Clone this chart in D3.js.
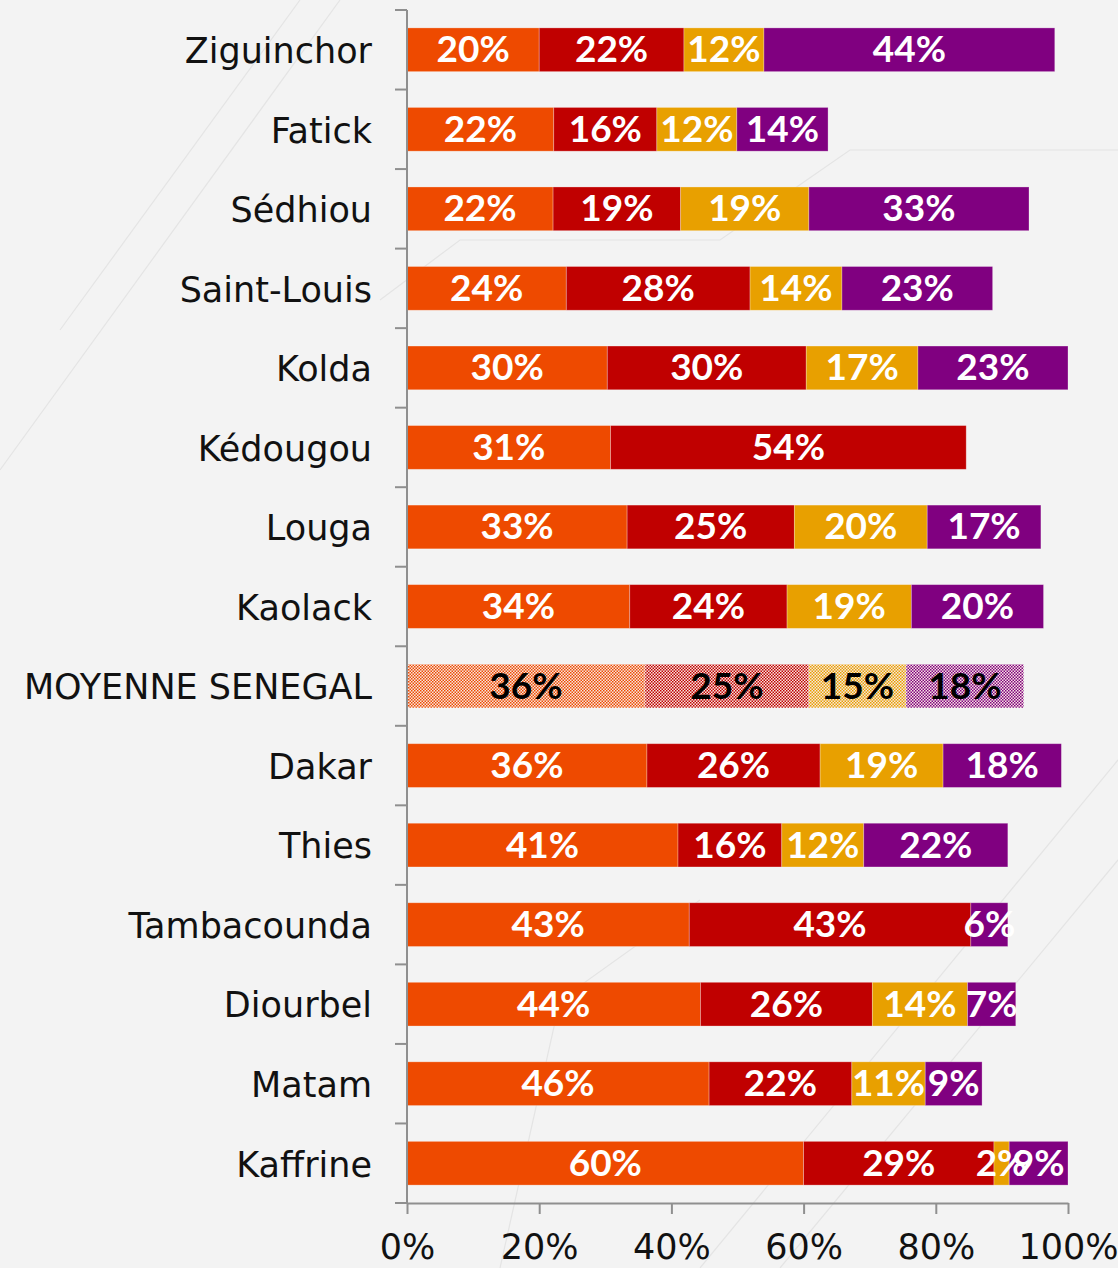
<!DOCTYPE html>
<html><head><meta charset="utf-8">
<script src="https://cdn.jsdelivr.net/npm/d3@7"></script>
<style>
html,body{margin:0;padding:0;background:#f3f3f3;}
svg{display:block;font-family:Lato,"Open Sans",sans-serif;}
</style></head>
<body>
<script>
const categories = ["Ziguinchor","Fatick","Sédhiou","Saint-Louis","Kolda","Kédougou","Louga","Kaolack","MOYENNE SENEGAL","Dakar","Thies","Tambacounda","Diourbel","Matam","Kaffrine"];
const series = ["s1","s2","s3","s4"];
const s1 = [0.200,0.222,0.221,0.241,0.303,0.308,0.333,0.337,0.360,0.363,0.410,0.427,0.444,0.457,0.600];
const s2 = [0.219,0.156,0.193,0.278,0.301,0.538,0.253,0.238,0.248,0.262,0.157,0.426,0.260,0.216,0.288];
const s3 = [0.121,0.121,0.194,0.139,0.169,0.000,0.201,0.188,0.147,0.186,0.124,0.000,0.144,0.111,0.023];
const s4 = [0.440,0.138,0.333,0.228,0.227,0.000,0.172,0.200,0.178,0.179,0.218,0.056,0.073,0.086,0.089];
const colors = ["#EE4A00","#C00000","#E8A000","#800080"];
const tickValues = [0,0.2,0.4,0.6,0.8,1];
const averageCategory = "MOYENNE SENEGAL";

const W = 1118, H = 1268;
const svg = d3.select("body").append("svg").attr("width", W).attr("height", H);

// background
svg.append("rect").attr("width", W).attr("height", H).attr("fill", "#f3f3f3");
const deco = svg.append("g").attr("stroke", "#e4e4e4").attr("stroke-width", 1.2).attr("fill", "none");
[["M60,330 L300,0"],["M0,470 L340,0"],["M700,1268 L1118,760"],["M780,1268 L1118,860"],["M380,300 L460,240 L720,240 L850,150 L1118,150"],["M500,1268 L560,1000 L700,900"]]
  .forEach(p => deco.append("path").attr("d", p[0]));

const defs = svg.append("defs");
colors.forEach((c, i) => {
  const p = defs.append("pattern").attr("id", "pat" + i).attr("patternUnits", "userSpaceOnUse")
    .attr("width", 3).attr("height", 3);
  p.append("rect").attr("width", 3).attr("height", 3).attr("fill", "#f6e6e0");
  p.append("rect").attr("x", 0).attr("y", 0).attr("width", 1.5).attr("height", 1.5).attr("fill", c);
  p.append("rect").attr("x", 1.5).attr("y", 1.5).attr("width", 1.5).attr("height", 1.5).attr("fill", c);
});

const x = d3.scaleLinear().domain([0, 1]).range([407, 1068]);
const y = d3.scaleBand().domain(categories).range([10, 1203]).paddingInner(0.45).paddingOuter(0.225);

const rows = categories.map((c, i) => ({cat: c, s1: s1[i], s2: s2[i], s3: s3[i], s4: s4[i]}));
const stacked = d3.stack().keys(series)(rows);
const fmt = d3.format(".0%");

const layers = svg.append("g").selectAll("g").data(stacked).join("g");
layers.each(function(layer, si) {
  const g = d3.select(this);
  g.selectAll("rect").data(layer).join("rect")
    .attr("x", d => x(d[0]))
    .attr("y", d => y(d.data.cat))
    .attr("width", d => Math.max(0, x(d[1]) - x(d[0])))
    .attr("height", y.bandwidth())
    .attr("fill", d => d.data.cat === averageCategory ? "url(#pat" + si + ")" : colors[si])
    .attr("stroke", "rgba(255,255,255,0.35)").attr("stroke-width", 0.8);
});
const labelG = svg.append("g");
stacked.forEach((layer) => {
  labelG.selectAll(null).data(layer.filter(d => d[1] - d[0] > 0.0005)).join("text")
    .attr("x", d => (x(d[0]) + x(d[1])) / 2)
    .attr("y", d => y(d.data.cat) + y.bandwidth() / 2 + 3)
    .attr("text-anchor", "middle").attr("dominant-baseline", "middle")
    .attr("font-size", 37).attr("font-weight", 700)
    .attr("fill", d => d.data.cat === averageCategory ? "#000" : "#fff")
    .text(d => fmt(d[1] - d[0]));
});

// y axis
const axisColor = "#8f8f8f";
const yAxis = svg.append("g").attr("transform", "translate(407,0)")
  .call(d3.axisLeft(y).tickSize(0).tickPadding(35));
yAxis.select(".domain").attr("stroke", axisColor).attr("stroke-width", 2).attr("d", "M0,10V1203");
yAxis.selectAll("text").attr("font-size", 35).attr("font-family", "'DejaVu Sans', sans-serif").attr("fill", "#111").attr("dy", "0.38em");
const bounds = d3.range(categories.length + 1).map(i => 10 + i * y.step());
yAxis.selectAll(".bt").data(bounds).join("line").attr("class", "bt")
  .attr("x1", -12).attr("x2", 0).attr("y1", d => d).attr("y2", d => d)
  .attr("stroke", axisColor).attr("stroke-width", 2);

// x axis
const xAxis = svg.append("g").attr("transform", "translate(0,1203)")
  .call(d3.axisBottom(x).tickValues(tickValues).tickFormat(fmt).tickSize(11).tickSizeOuter(0).tickPadding(20));
xAxis.select(".domain").attr("stroke", axisColor).attr("stroke-width", 2);
xAxis.selectAll(".tick line").attr("stroke", axisColor).attr("stroke-width", 2);
xAxis.selectAll("text").attr("font-size", 35).attr("font-family", "'DejaVu Sans', sans-serif").attr("fill", "#111");
</script>
</body></html>
